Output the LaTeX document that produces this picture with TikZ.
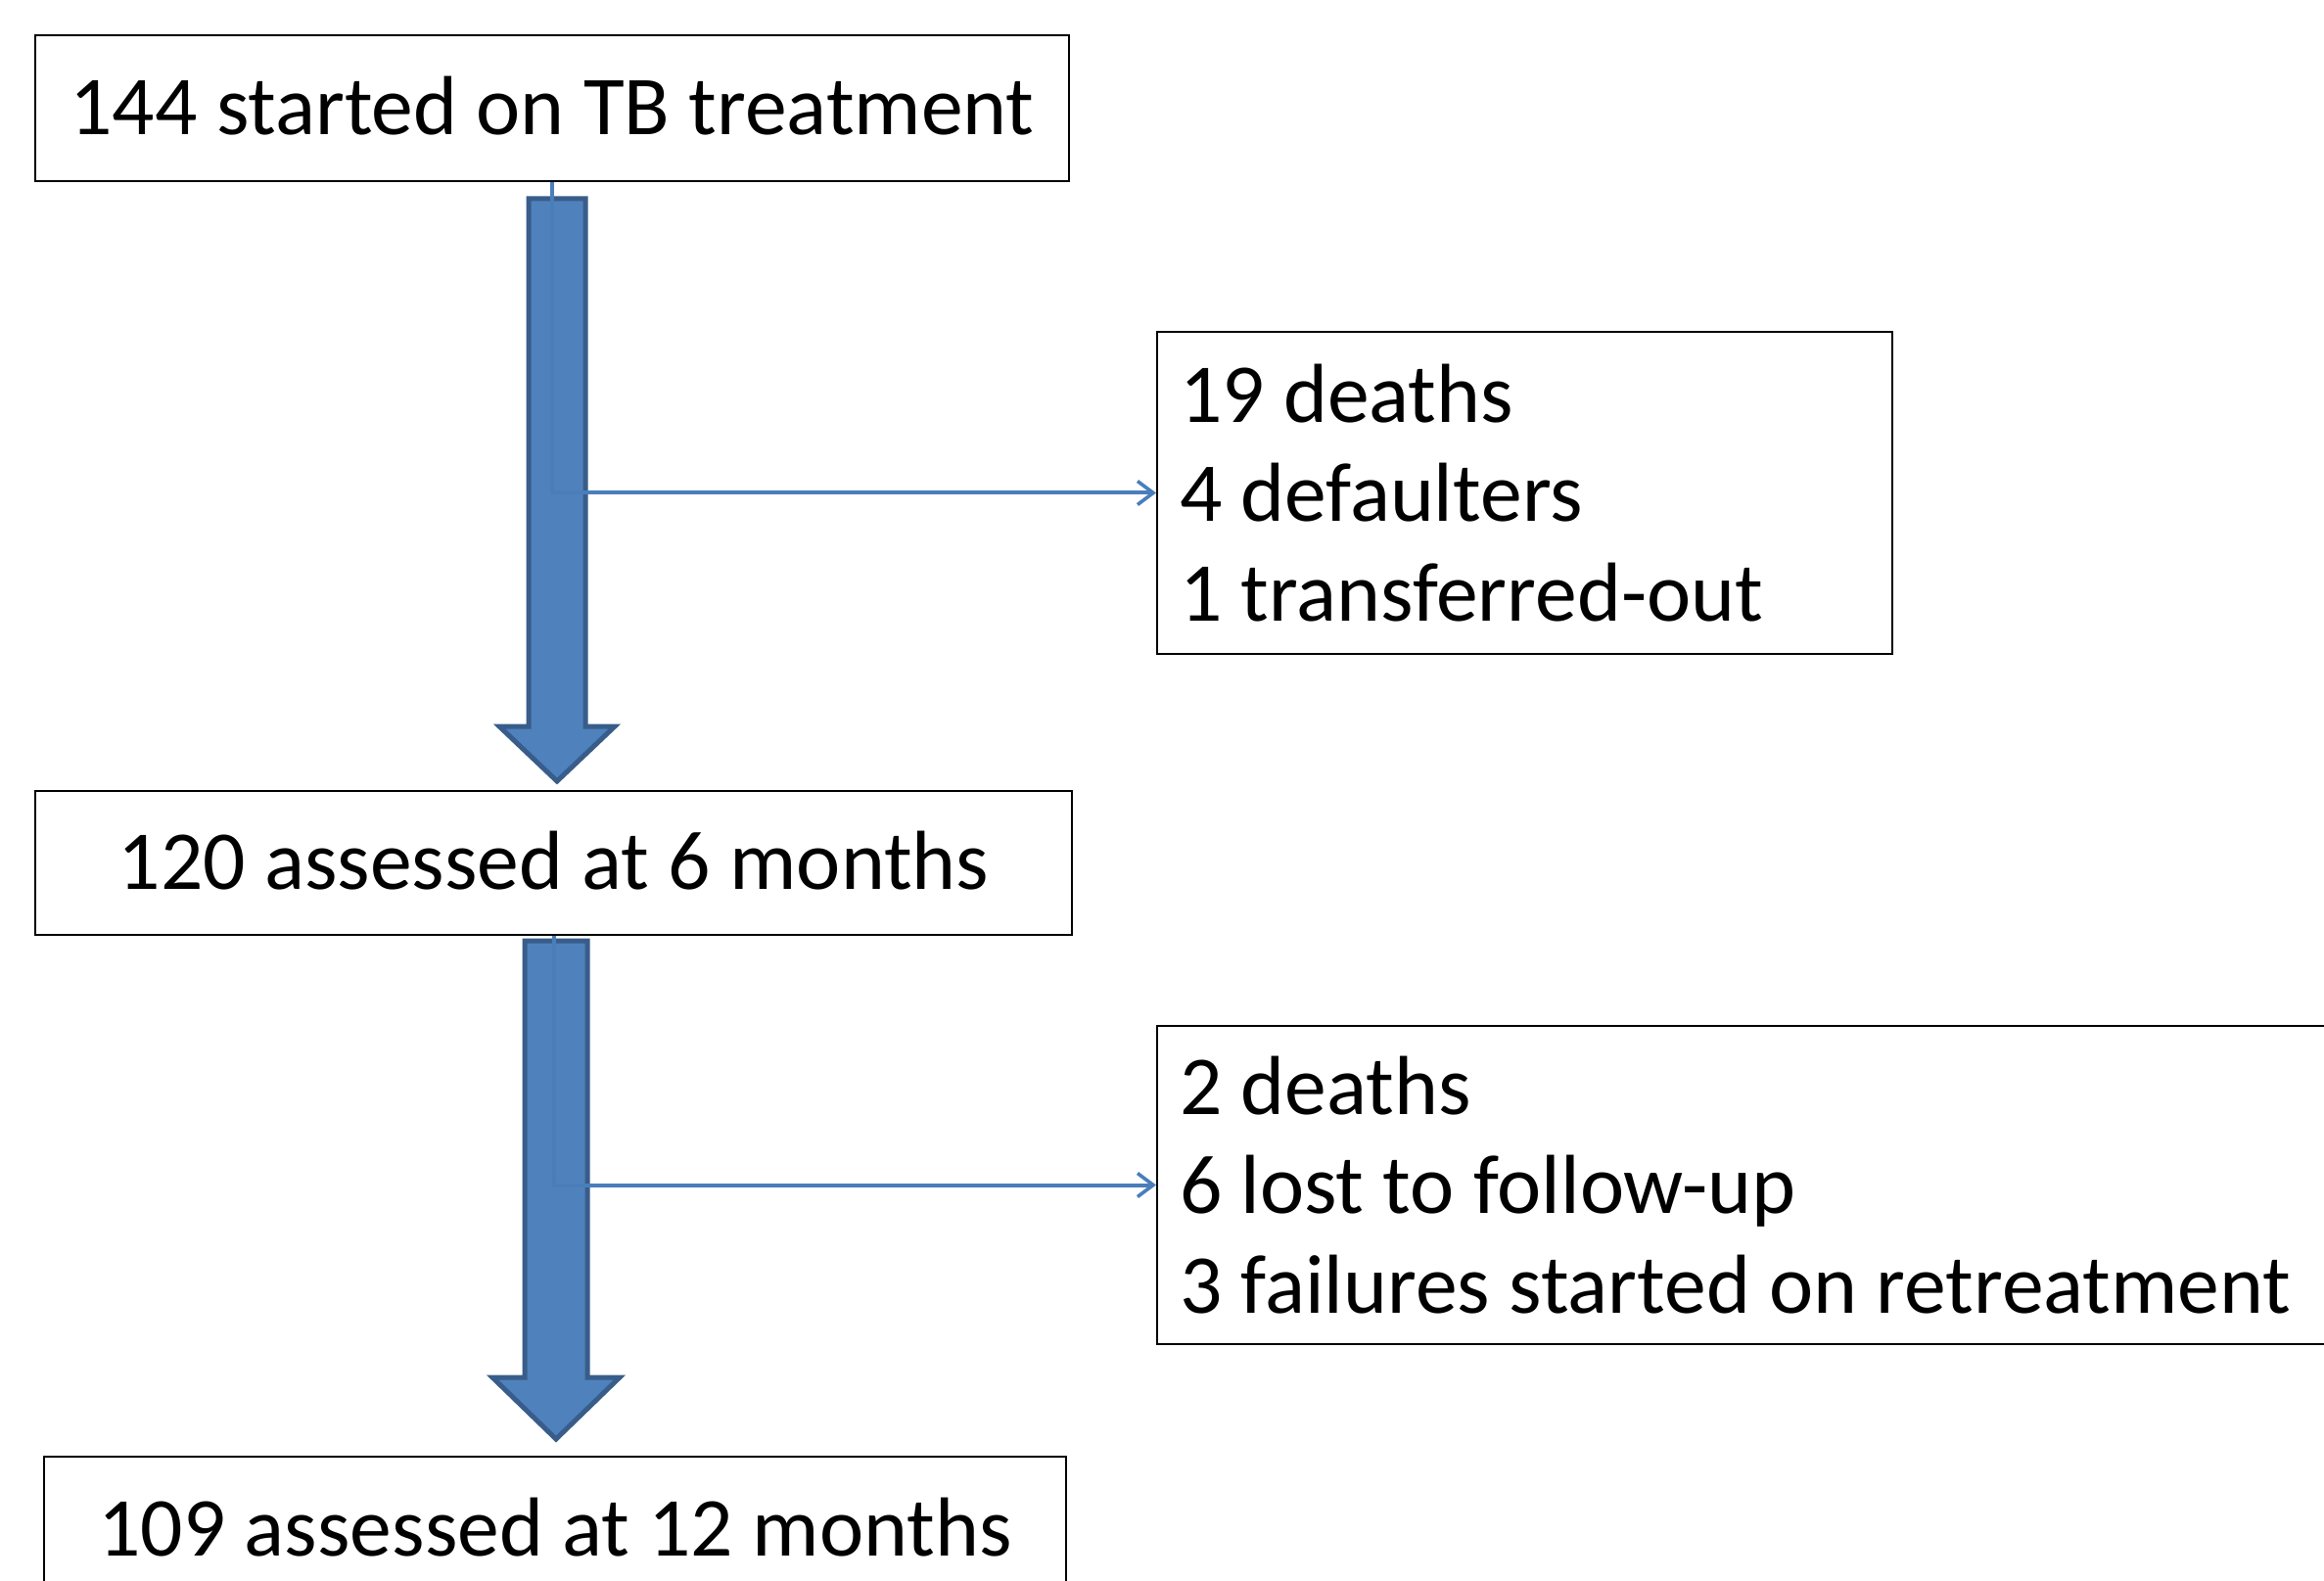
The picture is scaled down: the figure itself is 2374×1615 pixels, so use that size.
\documentclass[tikz,border=0pt]{standalone}
\usepackage{fontspec}
\setmainfont{Carlito}
\usetikzlibrary{arrows.meta}
\definecolor{fillblue}{HTML}{4F81BD}
\definecolor{edgeblue}{HTML}{385D8A}
\definecolor{lineblue}{HTML}{4A7EBB}
\begin{document}
\begin{tikzpicture}[x=0.5pt,y=-0.5pt,
  box/.style={draw=black, line width=1pt, inner sep=0pt,
    font=\fontsize{42.8}{50.75}\selectfont},
  onebox/.style={box, text height=27.4pt, text depth=0pt},
  listbox/.style={box, align=flush left, inner xsep=11.5pt},
  thin/.style={draw=lineblue, line width=2pt, -{Straight Barb[length=8pt,width=12pt,line width=1.8pt]}},
  fat/.style={draw=edgeblue, fill=fillblue, line width=2.5pt, line join=miter}]
\useasboundingbox (0,0) rectangle (2374,1615);
\clip (0,0) rectangle (2374,1615);
\fill[white] (0,0) rectangle (2374,1615);

\node[onebox, minimum width=528pt, minimum height=74.5pt] (b1) at (564,110.5) {144 started on TB treatment};
\node[onebox, minimum width=529.5pt, minimum height=73.5pt] (b2) at (565.5,881.5) {120 assessed at 6 months};
\node[onebox, minimum width=522pt, minimum height=74.5pt] (b3) at (567,1562.5) {109 assessed at 12 months};

\node[listbox, minimum width=375.5pt, minimum height=164.5pt, text width=352.5pt] (r1) at (1557.5,503.5)
  {19 deaths\\4 defaulters\\1 transferred-out};
\node[listbox, minimum width=619pt, minimum height=162.5pt, text width=596pt] (r2) at (1801,1210.5)
  {2 deaths\\6 lost to follow-up\\3 failures started on retreatment};

\draw[fat] (540,203) -- (598,203) -- (598,742) -- (628,742) -- (569,798) -- (510,742) -- (540,742) -- cycle;
\draw[fat] (536,961) -- (600,961) -- (600,1407) -- (633,1407) -- (568,1470) -- (503,1407) -- (536,1407) -- cycle;

\draw[thin] (b1.south) |- (r1.west);
\draw[thin] (b2.south) |- (r2.west);
\end{tikzpicture}
\end{document}
